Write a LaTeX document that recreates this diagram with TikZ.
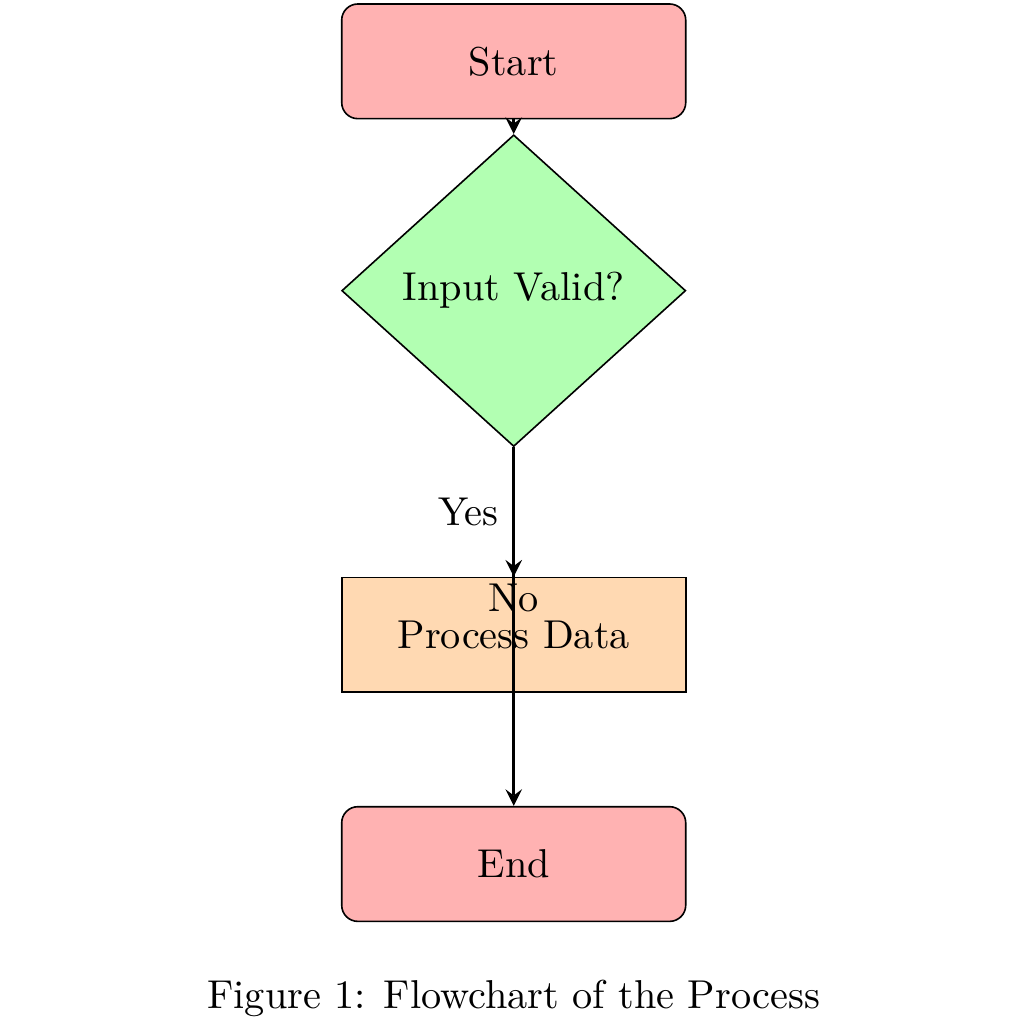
\documentclass[tikz,border=0pt]{standalone}
\usetikzlibrary{positioning,shapes.geometric,arrows}
\tikzset{
  startstop/.style={rectangle, rounded corners, minimum width=3cm, minimum height=1cm, draw=black, fill=red!30},
  decision/.style={diamond, aspect=1, minimum width=3cm, draw=black, fill=green!30},
  process/.style={rectangle, minimum width=3cm, minimum height=1cm, draw=black, fill=orange!30},
  arrow/.style={thick,->,>=stealth}
}
\begin{document}
\begin{tikzpicture}[on grid]
    \useasboundingbox (-4.48,-8.395) rectangle (4.45,0.535);

    \node[startstop] (start) at (0,0) {Start};
    \node[decision, below=2cm of start] (valid) {Input Valid?};
    \node[process, below=3cm of valid] (procdata) {Process Data};
    \node[startstop, below=2cm of procdata] (end) {End};

    \node[below=1.17cm of end] (caption) {Figure 1: Flowchart of the Process};

    \draw[arrow] (start) -- (valid);
    \draw[arrow] (valid) -- node[left] {Yes} (procdata);
    \draw[arrow] (valid) -- node[pos=0.42] {No} (end);
\end{tikzpicture}
\end{document}
